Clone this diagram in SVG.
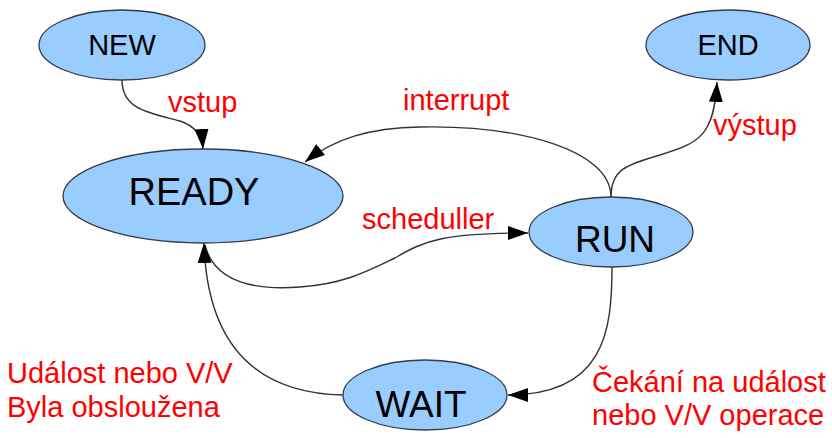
<svg xmlns="http://www.w3.org/2000/svg" width="832" height="438" viewBox="0 0 832 438">
<style>
.node{fill:#99ccff;stroke:#333c48;stroke-width:1.3}
.nt{font-family:"Liberation Sans",Arial,sans-serif;fill:#000;text-anchor:middle}
.lbl{font-family:"Liberation Sans",Arial,sans-serif;fill:#ff0000;font-size:29px}
.edge{fill:none;stroke:#333;stroke-width:1.4}
</style>
<defs>
<marker id="arr" markerUnits="userSpaceOnUse" markerWidth="22" markerHeight="16" refX="20" refY="7" orient="auto">
<path d="M0,0 L20,7 L0,14 Z" fill="#000"/>
</marker>
</defs>
<rect width="832" height="438" fill="#fff"/>
<g id="connectors">
<path class="edge" marker-end="url(#arr)" d="M122,80 C122,110 150,113 180,121 C195,126 202,135 203,149"/>
<path class="edge" marker-end="url(#arr)" d="M611,197 C611,150 520,125 420,127 C370,128 335,138 305,162"/>
<path class="edge" marker-end="url(#arr)" d="M611,197 C611,170 625,165 660,155 C700,143 714,135 717,82"/>
<path class="edge" marker-end="url(#arr)" d="M205,245 C215,285 260,290 300,287 C345,284 370,270 395,258 C425,240 445,233 528,233"/>
<path class="edge" marker-end="url(#arr)" d="M612,267 C612,330 605,395 508,395"/>
<path class="edge" marker-end="url(#arr)" d="M343,395 C255,393 207,345 204,243"/>
</g>
<g id="node-new">
<ellipse class="node" cx="122" cy="45" rx="83" ry="35"/>
<text class="nt" x="122" y="55" font-size="29">NEW</text>
</g>
<g id="node-end">
<ellipse class="node" cx="728" cy="45" rx="82" ry="35"/>
<text class="nt" x="728" y="55" font-size="29">END</text>
</g>
<g id="node-ready">
<ellipse class="node" cx="203" cy="196" rx="140" ry="47"/>
<text class="nt" x="194" y="205" font-size="38">READY</text>
</g>
<g id="node-run">
<ellipse class="node" cx="611" cy="232" rx="82" ry="35"/>
<text class="nt" x="615" y="252" font-size="37">RUN</text>
</g>
<g id="node-wait">
<ellipse class="node" cx="425" cy="395" rx="82" ry="35"/>
<text class="nt" x="421" y="417" font-size="37">WAIT</text>
</g>
<g id="labels">
<text class="lbl" x="168" y="112">vstup</text>
<text class="lbl" x="403" y="110">interrupt</text>
<text class="lbl" x="713" y="135">výstup</text>
<text class="lbl" x="362" y="229">scheduller</text>
<text class="lbl" x="7" y="383">Událost nebo V/V</text>
<text class="lbl" x="7" y="417">Byla obsloužena</text>
<text class="lbl" x="592" y="392">Čekání na událost</text>
<text class="lbl" x="592" y="425">nebo V/V operace</text>
</g>
</svg>
